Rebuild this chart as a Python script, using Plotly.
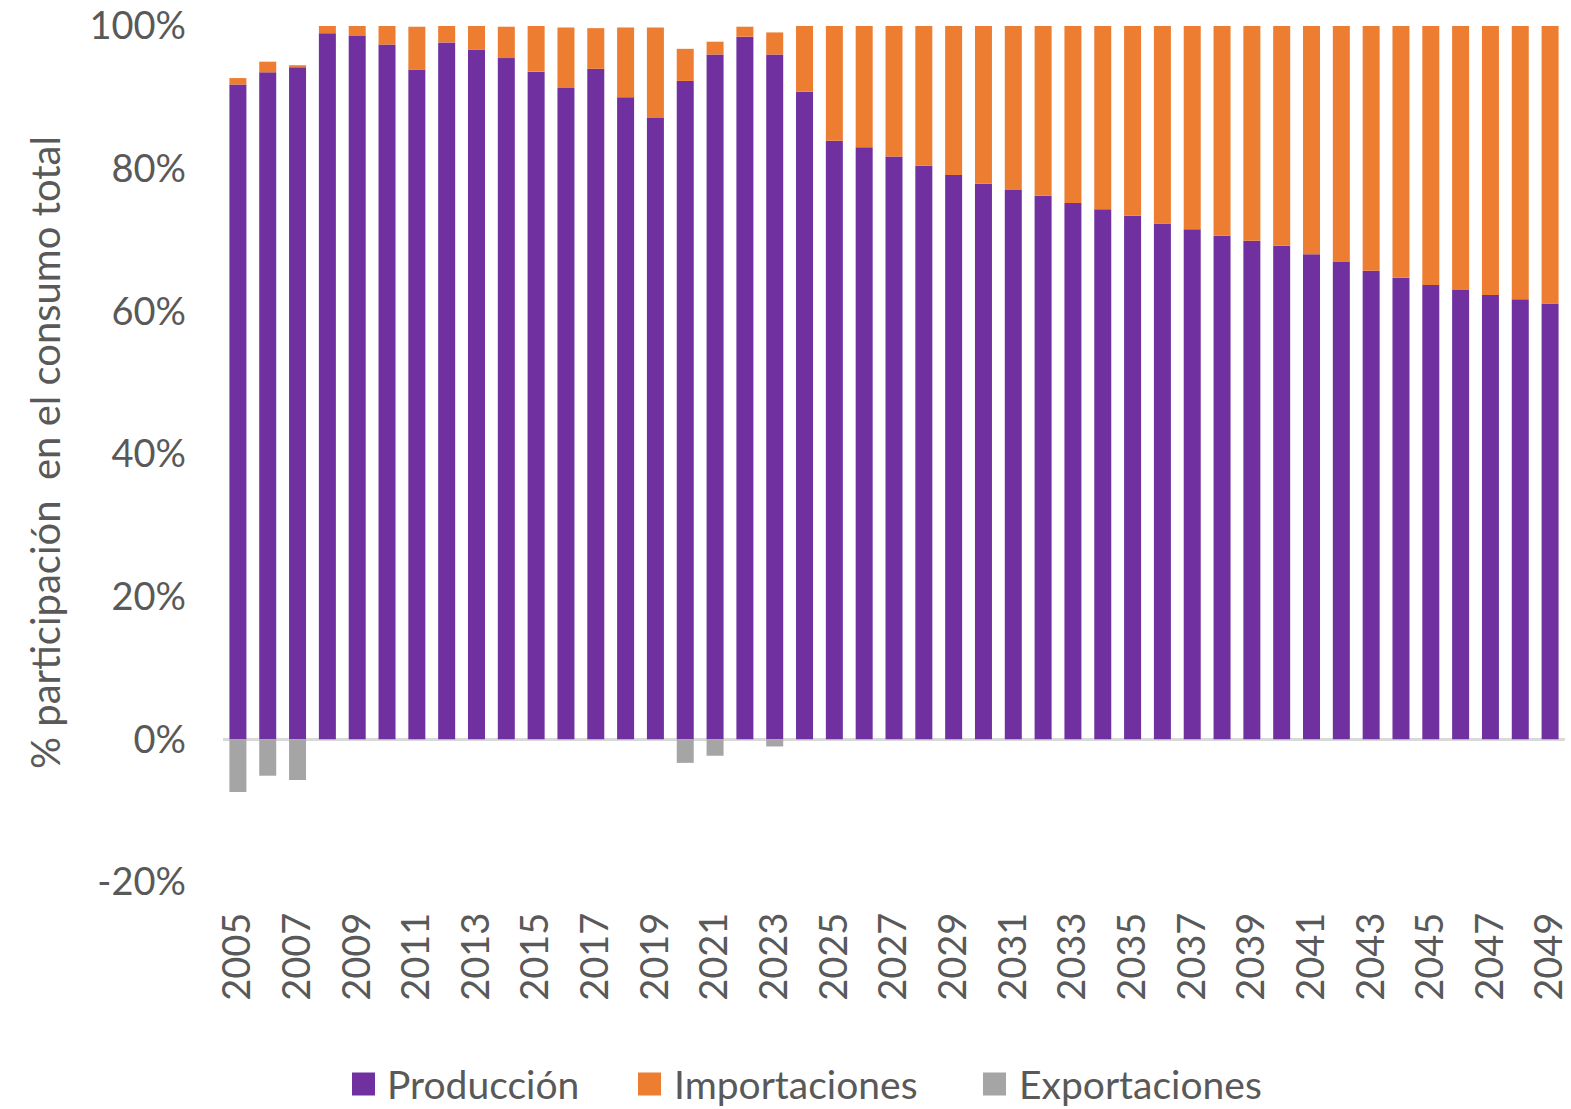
import plotly.graph_objects as go

# Energy balance shares: production, imports and exports as % of total consumption
years = list(range(2005, 2050))

produccion = [
    91.8, 93.5, 94.2, 99.0, 98.6, 97.4, 93.9, 97.7, 96.7, 95.5,
    93.6, 91.3, 94.0, 90.0, 87.1, 92.3, 96.0, 98.5, 96.0, 90.8,
    83.9, 83.0, 81.7, 80.4, 79.1, 77.9, 77.0, 76.2, 75.2, 74.3,
    73.4, 72.3, 71.5, 70.6, 69.9, 69.2, 68.0, 66.9, 65.7, 64.7,
    63.7, 63.0, 62.3, 61.7, 61.1,
]

importaciones = [
    0.9, 1.5, 0.3, 1.0, 1.4, 2.6, 6.0, 2.3, 3.3, 4.4,
    6.4, 8.5, 5.7, 9.8, 12.7, 4.5, 1.8, 1.4, 3.1, 9.2,
    16.1, 17.0, 18.3, 19.6, 20.9, 22.1, 23.0, 23.8, 24.8, 25.7,
    26.6, 27.7, 28.5, 29.4, 30.1, 30.8, 32.0, 33.1, 34.3, 35.3,
    36.3, 37.0, 37.7, 38.3, 38.9,
]

exportaciones = [
    -7.4, -5.1, -5.7, 0, 0, 0, 0, 0, 0, 0,
    0, 0, 0, 0, 0, -3.3, -2.3, 0, -1.0, 0,
    0, 0, 0, 0, 0, 0, 0, 0, 0, 0,
    0, 0, 0, 0, 0, 0, 0, 0, 0, 0,
    0, 0, 0, 0, 0,
]

series_names = ["Producción", "Importaciones", "Exportaciones"]
series_colors = ["#7030A0", "#ED7D31", "#A5A5A5"]

y_ticks = [-20, 0, 20, 40, 60, 80, 100]
y_ticktext = [f"{v}%" for v in y_ticks]
x_ticks = years[::2]

FONT = "Lato, 'Open Sans', sans-serif"
TEXT_COLOR = "#595959"

W, H = 1571, 1109
M_L, M_R, M_T, M_B = 223, 6, 26, 227
PLOT_W = W - M_L - M_R
PLOT_H = H - M_T - M_B


def px_x(px):
    return (px - M_L) / PLOT_W


def px_y(py):
    return (H - M_B - py) / PLOT_H


fig = go.Figure()
for name, vals, color in zip(series_names, [produccion, importaciones, exportaciones], series_colors):
    fig.add_trace(go.Bar(
        x=years, y=vals, name=name,
        marker=dict(color=color, line=dict(width=0)),
        showlegend=False,
    ))

# Legend drawn as swatches + labels below the axis
legend_items = [
    (352, 385),
    (638, 672),
    (983, 1017),
]
shapes = []
annotations = []
sw = 23
cy = 1084
for (sx, tx), name, color in zip(legend_items, series_names, series_colors):
    shapes.append(dict(
        type="rect", xref="paper", yref="paper",
        x0=px_x(sx), x1=px_x(sx + sw), y0=px_y(cy + sw / 2), y1=px_y(cy - sw / 2),
        fillcolor=color, line=dict(width=0),
    ))
    annotations.append(dict(
        text=name, xref="paper", yref="paper",
        x=px_x(tx), y=px_y(cy), xanchor="left", yanchor="middle",
        showarrow=False, font=dict(family=FONT, size=39, color=TEXT_COLOR),
    ))

annotations.append(dict(
    text="% participación  en el consumo total",
    xref="paper", yref="paper", x=px_x(45), y=px_y(453),
    xanchor="center", yanchor="middle", textangle=-90, showarrow=False,
    font=dict(family=FONT, size=40, color=TEXT_COLOR),
))

fig.update_layout(
    width=W, height=H,
    margin=dict(l=M_L, r=M_R, t=M_T, b=M_B, autoexpand=False),
    paper_bgcolor="white", plot_bgcolor="white",
    barmode="relative", bargap=0.43,
    font=dict(family=FONT, size=38, color=TEXT_COLOR),
    shapes=shapes, annotations=annotations,
    xaxis=dict(
        range=[2004.5, 2049.5], tickvals=x_ticks, ticktext=[str(v) for v in x_ticks],
        tickangle=-90, showgrid=False, showline=False, ticks="",
        ticklabelstandoff=22, automargin=False,
        tickfont=dict(family=FONT, size=38, color=TEXT_COLOR),
    ),
    yaxis=dict(
        range=[-20, 100], tickvals=y_ticks, ticktext=y_ticktext,
        showgrid=False, showline=False, ticks="",
        zeroline=True, zerolinecolor="#D9D9D9", zerolinewidth=3,
        layer="above traces", ticklabelstandoff=36, automargin=False,
        tickfont=dict(family=FONT, size=38, color=TEXT_COLOR),
    ),
)

fig.write_html("out.html")
